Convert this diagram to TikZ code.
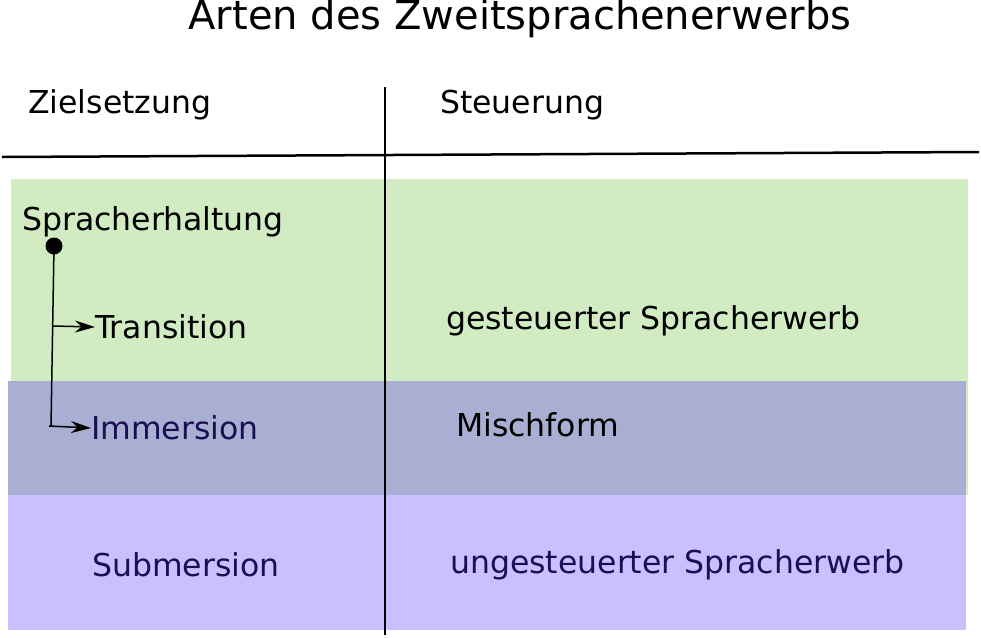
\documentclass[tikz,border=0pt]{standalone}
\usepackage{fontspec}
\setmainfont{DejaVu Sans}
\usetikzlibrary{arrows.meta}
\definecolor{gr}{HTML}{D1EBC3}
\definecolor{mix}{HTML}{A9AFD2}
\definecolor{pu}{HTML}{CABFFF}
\definecolor{navy}{HTML}{1A0F50}
\tikzset{lbl/.style={anchor=west,inner sep=0pt,font=\fontsize{31.5}{36}\selectfont},
 ln/.style={line width=2.5pt},
 arr/.style={-{Stealth[length=20pt,width=12pt]},line width=1.5pt}}
\begin{document}
\begin{tikzpicture}[x=1pt,y=-1pt]
\useasboundingbox (0,0) rectangle (981,637);
\fill[gr] (11,179) rectangle (968,381);
\fill[mix] (8,381) rectangle (966,495);
\fill[gr] (966,381) rectangle (968,495);
\fill[pu] (8,495) rectangle (966,630);
\node[inner sep=0pt,font=\fontsize{40}{46}\selectfont] (title) at (520,18) {Arten des Zweitsprachenerwerbs};
\coordinate (vt) at (385,87); \coordinate (vb) at (385,635);
\draw[ln] (vt) -- (vb);
\coordinate (hl) at (2,157); \coordinate (hr) at (979,152);
\draw[ln] (hl) -- (hr);
\node[lbl] (z) at (28,105) {Zielsetzung};
\node[lbl] (s) at (440,105) {Steuerung};
\node[lbl] (sp) at (22,222) {Spracherhaltung};
\node[lbl] (tr) at (95,327) {Transition};
\node[lbl] (ge) at (446,321) {gesteuerter Spracherwerb};
\node[lbl,text=navy] (im) at (91,428) {Immersion};
\node[lbl] (mi) at (456,425) {Mischform};
\node[lbl,text=navy] (su) at (92,565) {Submersion};
\node[lbl,text=navy] (un) at (450,565) {ungesteuerter Spracherwerb};
\fill (54,246) circle (8.5);
\coordinate (d) at (54,246); \coordinate (e) at (51,426);
\draw[line width=1.5pt] (d) -- (e);
\coordinate (a1) at (53,326); \coordinate (a2) at (49,426);
\draw[arr] (a1) -- (tr.west);
\draw[arr] (a2) -- (im.west);
\end{tikzpicture}
\end{document}
